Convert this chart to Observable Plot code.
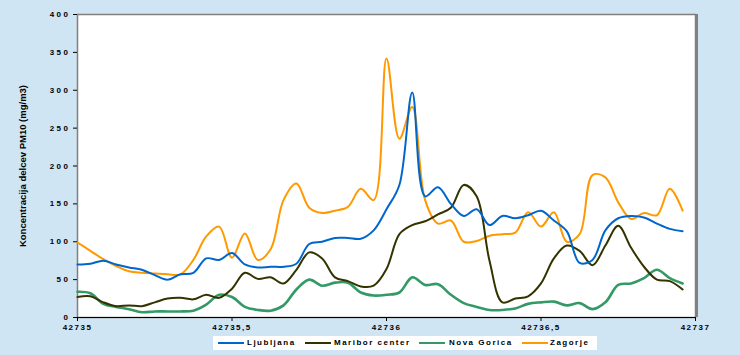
<!DOCTYPE html>
<html>
<head>
<meta charset="utf-8">
<script src="https://cdn.jsdelivr.net/npm/d3@7"></script>
<script src="https://cdn.jsdelivr.net/npm/@observablehq/plot@0.6"></script>
<style>
  html, body { margin: 0; padding: 0; background: #cfe5f3; }
  #wrap { position: relative; width: 740px; height: 355px; background: #cfe5f3; overflow: hidden; font-family: "Liberation Sans", Arial, sans-serif; }
  #chart svg { display: block; }
  g[aria-label="y-axis tick label"] text { letter-spacing: 2.5px; font-weight: bold; }
  g[aria-label="x-axis tick label"] text { letter-spacing: 1.5px; font-weight: bold; }
  #ytitle { position: absolute; left: 22px; top: 166px; transform: translate(-50%, -50%) rotate(-90deg); white-space: nowrap; font-size: 9.5px; font-weight: bold; color: #000; }
  #legend { position: absolute; left: 213px; top: 336px; width: 384px; height: 14px; background: #fff; font-size: 8px; font-weight: bold; letter-spacing: 1.5px; color: #000; white-space: nowrap; }
  #legend .sw { position: absolute; top: 6px; width: 26px; height: 2px; }
  #legend .tx { position: absolute; top: 0; line-height: 14px; }
</style>
</head>
<body>
<div id="wrap">
  <div id="chart"></div>
  <div id="ytitle">Koncentracija delcev PM10 (mg/m3)</div>
  <div id="legend"></div>
</div>
<script>
// Hourly data, 48 hours starting at 42735
const seriesNames = ["Ljubljana", "Maribor center", "Nova Gorica", "Zagorje"];
const seriesColors = ["#0066cc", "#333300", "#339966", "#ff9900"];
const hours = d3.range(48);

const ljubljana = [70, 71, 75, 70, 66, 63, 56, 50, 57, 59, 78, 76, 85, 70, 66, 67, 67, 71, 97, 100, 105, 105, 104, 115, 143, 175, 297, 160, 172, 150, 134, 143, 122, 134, 131, 135, 141, 128, 114, 72, 76, 115, 131, 134, 132, 124, 117, 114];
const mariborCenter = [27, 28, 20, 15, 16, 15, 20, 25, 26, 24, 30, 26, 38, 59, 51, 53, 45, 63, 86, 78, 53, 48, 41, 42, 64, 110, 122, 127, 136, 145, 175, 160, 75, 20, 25, 28, 45, 78, 95, 88, 69, 95, 121, 92, 67, 50, 48, 37];
const novaGorica = [34, 32, 18, 14, 11, 7, 8, 8, 8, 9, 17, 30, 27, 14, 10, 9, 16, 37, 50, 42, 46, 46, 33, 29, 30, 33, 53, 43, 44, 30, 19, 14, 10, 10, 12, 18, 20, 21, 16, 19, 11, 20, 43, 45, 52, 63, 52, 45];
const zagorje = [99, 88, 77, 68, 61, 59, 58, 57, 57, 76, 107, 120, 79, 111, 76, 90, 155, 177, 145, 138, 141, 146, 170, 155, 342, 236, 278, 155, 124, 128, 100, 101, 108, 110, 112, 139, 120, 139, 100, 110, 188, 185, 152, 130, 138, 135, 170, 141];

const xTicks = [42735, 42735.5, 42736, 42736.5, 42737];
const yTicks = [0, 50, 100, 150, 200, 250, 300, 350, 400];

const valuesBySeries = [ljubljana, mariborCenter, novaGorica, zagorje];
const rows = [];
valuesBySeries.forEach((vals, s) => {
  vals.forEach((v, i) => rows.push({series: seriesNames[s], x: 42735 + hours[i] / 24, y: v}));
});

const widths = {"Ljubljana": 2, "Maribor center": 2, "Nova Gorica": 2.6, "Zagorje": 2};
const drawOrder = ["Zagorje", "Nova Gorica", "Maribor center", "Ljubljana"];

const lineMarks = drawOrder.map(name => Plot.line(rows.filter(r => r.series === name), {
  x: "x", y: "y",
  stroke: seriesColors[seriesNames.indexOf(name)],
  strokeWidth: widths[name],
  curve: "catmull-rom"
}));

const chart = Plot.plot({
  width: 740,
  height: 355,
  marginLeft: 77,
  marginRight: 45,
  marginTop: 14,
  marginBottom: 38,
  style: {background: "transparent", fontFamily: "'Liberation Sans', Arial, sans-serif", fontSize: "8px", color: "#000", overflow: "visible"},
  x: {domain: [42735, 42737]},
  y: {domain: [0, 400]},
  marks: [
    Plot.frame({fill: "#ffffff", stroke: "#808080", strokeWidth: 1.5}),
    Plot.ruleX([42737], {stroke: "#808080", strokeWidth: 3, dx: 1}),
    Plot.ruleY([0], {stroke: "#000000", strokeWidth: 1}),
    Plot.axisX({ticks: xTicks, tickSize: 4, tickPadding: 3, tickFormat: d => String(d).replace(".", ","), label: null, stroke: "#000"}),
    Plot.axisY({ticks: yTicks, tickSize: 4, tickPadding: 3, tickFormat: d => String(d), label: null, stroke: "#000"}),
    ...lineMarks
  ]
});
document.getElementById("chart").appendChild(chart);

// Legend (positions relative to the legend box)
const legendSwatchLeft = [5, 92, 206, 309];
const legendTextLeft = [34, 121, 236, 337];
const legend = document.getElementById("legend");
seriesNames.forEach((name, i) => {
  const sw = document.createElement("span");
  sw.className = "sw";
  sw.style.left = legendSwatchLeft[i] + "px";
  sw.style.background = seriesColors[i];
  const tx = document.createElement("span");
  tx.className = "tx";
  tx.style.left = legendTextLeft[i] + "px";
  tx.textContent = name;
  legend.appendChild(sw);
  legend.appendChild(tx);
});
</script>
</body>
</html>
